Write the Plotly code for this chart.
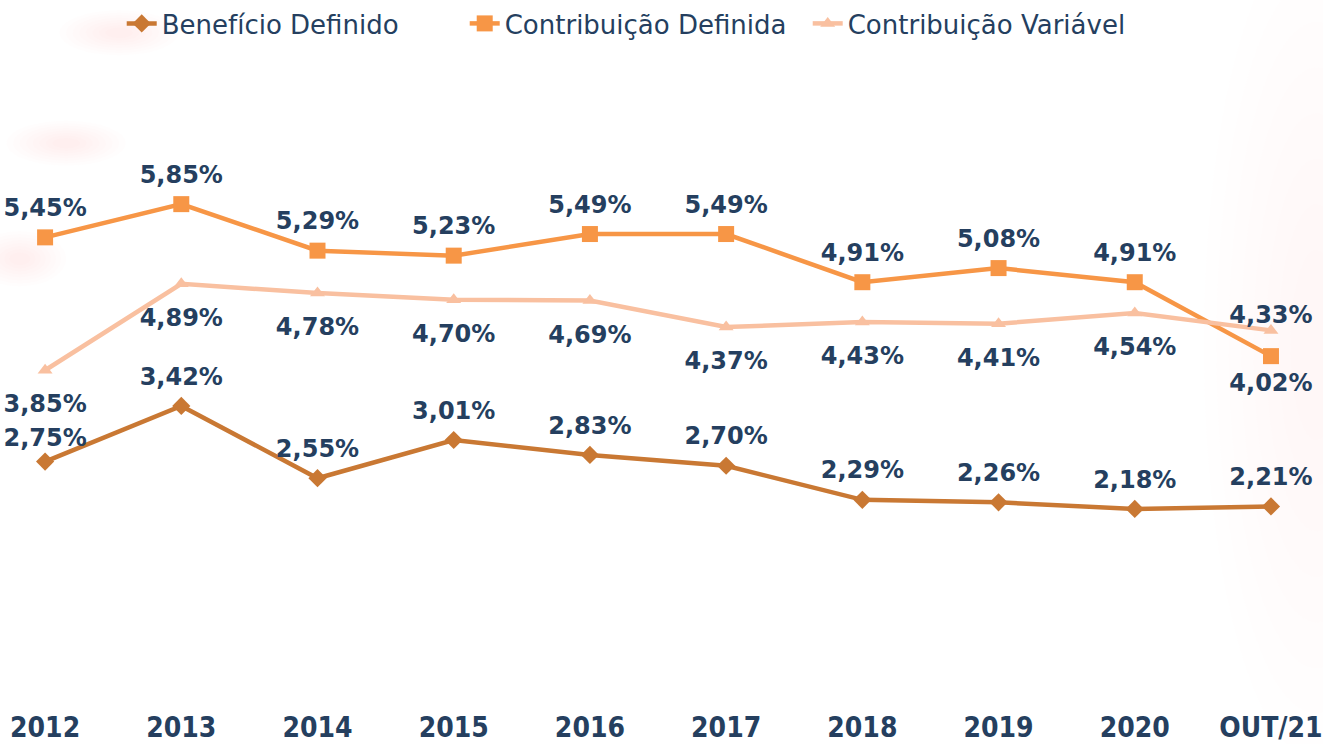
import plotly.graph_objects as go

# Data
periods = ["2012", "2013", "2014", "2015", "2016", "2017", "2018", "2019", "2020", "OUT/21"]
beneficio_definido = [2.75, 3.42, 2.55, 3.01, 2.83, 2.70, 2.29, 2.26, 2.18, 2.21]
contribuicao_definida = [5.45, 5.85, 5.29, 5.23, 5.49, 5.49, 4.91, 5.08, 4.91, 4.02]
contribuicao_variavel = [3.85, 4.89, 4.78, 4.70, 4.69, 4.37, 4.43, 4.41, 4.54, 4.33]

# Label placement per point, and spacing (invisible marker size drives the text offset)
bd_pos = ["top center"] * 10
bd_gap = [13] + [23] * 9
cd_pos = ["top center"] * 9 + ["bottom center"]
cd_gap = [23] * 9 + [26]
cv_pos = ["bottom center"] * 9 + ["top center"]
cv_gap = [37] * 9 + [1]

NAVY = "#253f5f"
LABEL_FONT = dict(family="DejaVu Sans", size=24, color=NAVY, weight="bold")


def pct(v):
    return f"{v:.2f}".replace(".", ",") + "%"


fig = go.Figure()

series = [
    ("Benefício Definido", beneficio_definido, "#c97833", "diamond", 14, bd_pos, bd_gap),
    ("Contribuição Definida", contribuicao_definida, "#f79646", "square", 16, cd_pos, cd_gap),
    ("Contribuição Variável", contribuicao_variavel, "#f9c0a0", "triangle-up", 13, cv_pos, cv_gap),
]

for name, vals, color, symbol, msize, pos, gap in series:
    fig.add_trace(go.Scatter(
        x=periods, y=vals, name=name,
        mode="lines+markers",
        line=dict(color=color, width=4.5),
        marker=dict(color=color, symbol=symbol, size=msize),
        cliponaxis=False,
    ))

for name, vals, color, symbol, msize, pos, gap in series:
    fig.add_trace(go.Scatter(
        x=periods, y=vals, name=name + " (rótulos)",
        mode="markers+text",
        marker=dict(size=gap, opacity=0),
        text=[pct(v) for v in vals],
        textposition=pos,
        textfont=LABEL_FONT,
        showlegend=False, hoverinfo="skip",
        cliponaxis=False,
    ))

# Faint decorative background blobs (soft edges from stacked translucent ellipses)
blobs = [
    (0.045, 0.92, 0.135, 0.985, "#f5bf9f", 0.025),
    (0.005, 0.76, 0.095, 0.825, "#f5bf9f", 0.025),
    (-0.02, 0.585, 0.05, 0.665, "#f5bf9f", 0.025),
    (0.91, -0.1, 1.08, 1.1, "#fbe2d2", 0.025),
]
shapes = []
for x0, y0, x1, y1, c, op in blobs:
    for k in range(8):
        dx = (x1 - x0) * 0.055 * k
        dy = (y1 - y0) * 0.055 * k
        shapes.append(dict(type="circle", xref="paper", yref="paper",
                           x0=x0 + dx, x1=x1 - dx, y0=y0 + dy, y1=y1 - dy,
                           fillcolor=c, opacity=op, line=dict(width=0),
                           layer="below"))

fig.update_layout(
    width=1323, height=744,
    margin=dict(l=0, r=0, t=0, b=54),
    paper_bgcolor="white", plot_bgcolor="rgba(0,0,0,0)",
    shapes=shapes,
    showlegend=True,
    legend=dict(orientation="h", x=0.092, xanchor="left", y=1.0, yanchor="top",
                font=dict(family="DejaVu Sans", size=26, color=NAVY),
                itemwidth=30, entrywidth=298, entrywidthmode="pixels",
                bgcolor="rgba(0,0,0,0)"),
    xaxis=dict(type="category", range=[-0.331, 9.382], showgrid=False, zeroline=False,
               showline=False, ticks="", automargin=False, ticklabelstandoff=18,
               tickfont=dict(family="DejaVu Sans Condensed", size=28, color=NAVY, weight="bold")),
    yaxis=dict(range=[0, 8.308], visible=False, showgrid=False, zeroline=False),
)

fig.write_html("out.html")
